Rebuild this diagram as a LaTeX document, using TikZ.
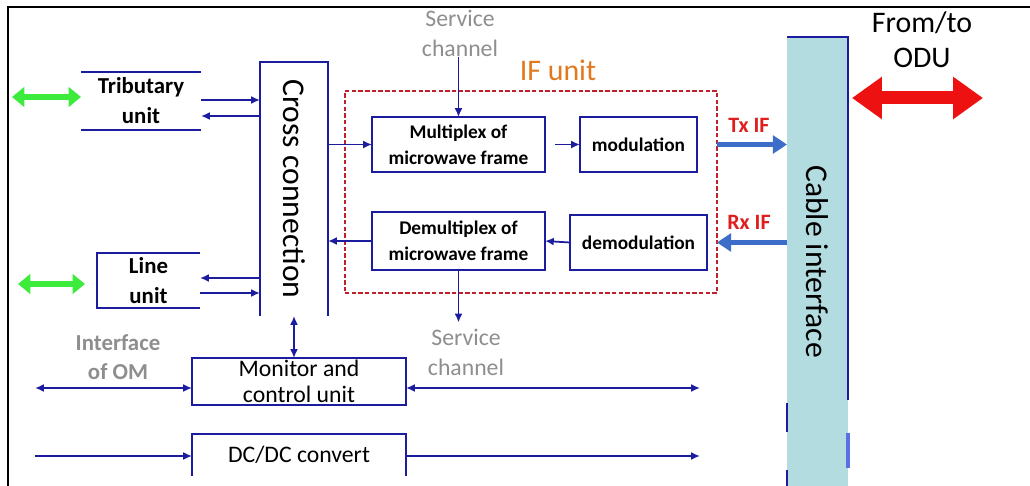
\documentclass[tikz,border=0pt]{standalone}
\usepackage{fontspec}
\setmainfont{Carlito}
\usepackage{tikz}
\usetikzlibrary{arrows.meta, positioning, calc}

\definecolor{linkblue}{HTML}{1C1C9E}
\definecolor{cablefill}{HTML}{B3DCE0}
\definecolor{cablehint}{HTML}{5A6FE0}
\definecolor{ifred}{HTML}{C0202A}
\definecolor{iforange}{HTML}{E2791E}
\definecolor{txred}{HTML}{E01E1E}
\definecolor{ifblue}{HTML}{3C6DC8}
\definecolor{extgreen}{HTML}{3DEB3D}
\definecolor{odured}{HTML}{EE1111}
\definecolor{labelgray}{HTML}{8E8E8E}

\begin{document}
\begin{tikzpicture}[x=0.02cm, y=-0.02cm,
    unit/.style={inner sep=0pt, outer sep=0pt, align=center},
    unitbox/.style={unit, draw=linkblue, line width=1.1pt},
    border/.style={linkblue, line width=1.1pt},
    link/.style={linkblue, line width=1pt, -{Latex[length=5pt,width=4.5pt]}},
    dlink/.style={linkblue, line width=1pt, {Latex[length=5pt,width=4.5pt]}-{Latex[length=5pt,width=4.5pt]}},
    greenarrow/.style={extgreen, line width=3.4pt, {Triangle[length=7pt,width=11pt]}-{Triangle[length=7pt,width=11pt]}},
    ifarrow/.style={ifblue, line width=3.4pt, -{Triangle[length=8pt,width=10pt]}},
    oduarrow/.style={odured, line width=7.4pt, {Triangle[length=17pt,width=23pt]}-{Triangle[length=17pt,width=23pt]}},
    unitfont/.style={font=\fontsize{13}{17}\selectfont\bfseries},
    boxfont/.style={font=\fontsize{11}{15}\selectfont\bfseries},
    bigfont/.style={font=\fontsize{17}{20}\selectfont},
    sidefont/.style={font=\fontsize{18}{20}\selectfont},
    monfont/.style={font=\fontsize{13.5}{15}\selectfont},
    graylabel/.style={inner sep=0pt, align=center, text=labelgray, font=\fontsize{13.5}{17}\selectfont}
  ]
  % Frame and bounding box
  \useasboundingbox (0,0) rectangle (1030,486);
  \draw[black, line width=1.6pt] (8,486) -- (8,7) -- (1030,7);

  % Free ends of the outer connectors
  \coordinate (tribext) at (12,97);
  \coordinate (lineext) at (18,284);
  \coordinate (omin) at (35,388);
  \coordinate (omout) at (700,388);
  \coordinate (dcin) at (35,456);
  \coordinate (dcout) at (700,456);
  \coordinate (odu) at (983,98);

  % Tributary and line units
  \node[unit, unitfont, minimum width=2.4cm, minimum height=1.16cm] (trib) at (141,101) {Tributary\\unit};
  \draw[border] (trib.north west) -- (trib.north east) (trib.south west) -- (trib.south east);
  \node[unit, unitfont, minimum width=2.06cm, minimum height=1.1cm] (line) at (148.5,280.5) {Line\\unit};
  \draw[border] (line.north east) -- (line.north west) -- (line.south west) -- (line.south east);

  % Cross connection
  \node[unit, minimum width=1.36cm, minimum height=5.08cm,
    label={[rotate=-90, sidefont]center:Cross connection}] (cross) at (294,189) {};
  \draw[border] (cross.south west) -- (cross.north west) -- (cross.north east) -- (cross.south east);

  % IF unit
  \node[unit, draw=ifred, line width=1.1pt, dash pattern=on 2.5pt off 1.3pt,
    minimum width=7.44cm, minimum height=4.04cm] (ifbox) at (531,192) {};
  \node[bigfont, text=iforange, inner sep=0pt] (iflbl) at (558,70) {IF unit};
  \node[unitbox, boxfont, minimum width=3.46cm, minimum height=1.1cm] (mux) at (458.5,144.5) {Multiplex of\\microwave frame};
  \node[unitbox, boxfont, minimum width=2.34cm, minimum height=1.1cm] (mod) at (638.5,144.5) {modulation};
  \node[unitbox, boxfont, minimum width=3.46cm, minimum height=1.16cm] (demux) at (458.5,241) {Demultiplex of\\microwave frame};
  \node[unitbox, boxfont, minimum width=2.74cm, minimum height=1.1cm] (demod) at (638.5,242.5) {demodulation};

  % Service channels
  \node[graylabel] (svcin) at (460,33) {Service\\channel};
  \node[graylabel] (svcout) at (466,352) {Service\\channel};

  % Cable interface
  \node[unit, fill=cablefill, minimum width=1.22cm, minimum height=8.98cm,
    label={[rotate=-90, sidefont]center:Cable interface}] (cable) at (817.5,261.5) {};
  \draw[border] (cable.north west) -- (cable.north east) -- ($(cable.north east)+(0,363)$);
  \draw[border] ($(cable.south west)+(0,-83)$) -- ($(cable.south west)+(0,-54)$);
  \draw[border] ($(cable.south west)+(0,-16)$) -- (cable.south west);
  \draw[cablehint, line width=2pt] ($(cable.south east)+(0,-53)$) -- ($(cable.south east)+(0,-18)$);
  \node[bigfont, align=center, inner sep=0pt] (odulbl) at (922,40) {From/to\\ODU};
  \node[font=\fontsize{12.5}{14}\selectfont\bfseries, text=txred] (txlbl) at (749,125) {Tx IF};
  \node[font=\fontsize{12.5}{14}\selectfont\bfseries, text=txred] (rxlbl) at (749,222) {Rx IF};

  % Monitor and power
  \node[unitbox, monfont, minimum width=4.28cm, minimum height=0.94cm] (mon) at (299,381.5) {Monitor and\\control unit};
  \node[unit, monfont, minimum width=4.28cm, minimum height=0.84cm] (dcdc) at (299,455) {DC/DC convert};
  \draw[border] (dcdc.south west) -- (dcdc.north west) -- (dcdc.north east) -- (dcdc.south east);
  \node[graylabel, font=\fontsize{13}{16.5}\selectfont\bfseries] (omlbl) at (118,357) {Interface\\of OM};

  % Connectors
  \draw[greenarrow] (tribext) -- (tribext -| trib.west);
  \draw[greenarrow] (lineext) -- ($(lineext -| line.west)+(-12,0)$);
  \draw[link] ($(trib.east)+(0,-1)$) -- ($(trib.east -| cross.west)+(0,-1)$);
  \draw[link] ($(trib.east -| cross.west)+(0,15)$) -- ($(trib.east)+(0,15)$);
  \draw[link] ($(line.east -| cross.west)+(0,-2.5)$) -- ($(line.east)+(0,-2.5)$);
  \draw[link] ($(line.east)+(0,12.5)$) -- ($(line.east -| cross.west)+(0,12.5)$);
  \draw[link] (cross.east |- mux.west) -- (mux.west);
  \draw[link] ($(mux.east)+(10,0)$) -- (mod.west);
  \draw[link] (demod.west) -- (demux.east);
  \draw[link] (demux.west) -- (demux.west -| cross.east);
  \draw[link] (svcin.south -| mux.north) -- (mux.north);
  \draw[link] (demux.south) -- ($(demux.south |- svcout.north)+(0,-6)$);
  \draw[ifarrow] (ifbox.east |- mod.east) -- (cable.west |- mod.east);
  \draw[ifarrow] (cable.west |- demod.east) -- (ifbox.east |- demod.east);
  \draw[oduarrow] ($(cable.east |- odu)+(4,0)$) -- (odu);
  \draw[dlink] (cross.south) -- (cross.south |- mon.north);
  \draw[dlink] (omin) -- (omin -| mon.west);
  \draw[dlink] (omin -| mon.east) -- (omout);
  \draw[link] (dcin) -- (dcin -| dcdc.west);
  \draw[link] (dcin -| dcdc.east) -- (dcout);
\end{tikzpicture}
\end{document}
